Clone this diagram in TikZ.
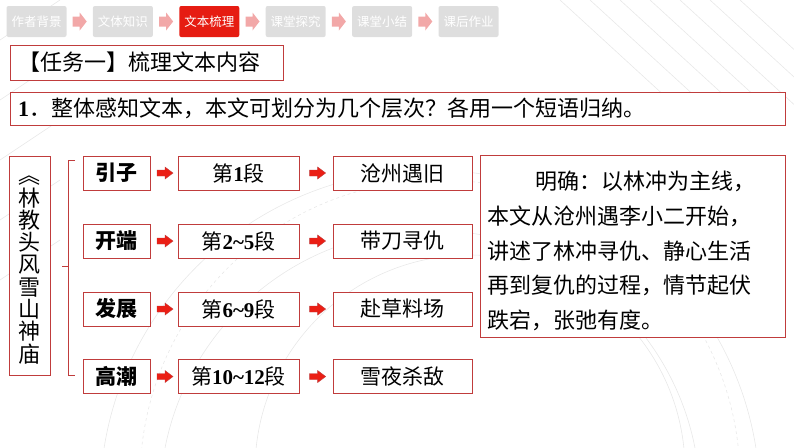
\documentclass[tikz,border=0pt]{standalone}
\usepackage{fontspec}
\setmainfont{Noto Sans CJK SC}
\newfontfamily\numfont{Liberation Serif}
\usetikzlibrary{calc}
\definecolor{navgray}{RGB}{222,222,222}
\definecolor{navred}{RGB}{230,28,18}
\definecolor{navpink}{RGB}{242,168,168}
\definecolor{bord}{RGB}{192,60,60}
\definecolor{arrred}{RGB}{235,30,20}
\definecolor{bggray}{RGB}{232,232,232}
\newcommand{\nm}[1]{{\numfont\bfseries #1}}
\begin{document}
\begin{tikzpicture}[x=1pt,y=-1pt,
  navbox/.style={fill=navgray, rounded corners=2pt, minimum width=60pt, minimum height=31pt, inner sep=0pt, text=white, font=\fontsize{12.5}{14}\selectfont},
  navon/.style={navbox, fill=navred},
  navarrow/.pic={\fill[navpink] (-7,-5) -- (0,-5) -- (0,-9) -- (7,0) -- (0,9) -- (0,5) -- (-7,5) -- cycle;},
  rowarrow/.pic={\filldraw[fill=arrred, draw=bord, line width=0.4pt] (-8,-3) -- (0,-3) -- (0,-6) -- (8,0) -- (0,6) -- (0,3) -- (-8,3) -- cycle;},
  framebox/.style={draw=bord, line width=0.9pt, fill=white, inner sep=0pt},
  lblbox/.style={framebox, minimum width=67pt, minimum height=34pt, font=\fontsize{21}{24}\selectfont\bfseries},
  midbox/.style={framebox, minimum width=121pt, minimum height=34pt, font=\fontsize{21}{24}\selectfont},
  resbox/.style={framebox, minimum width=139pt, minimum height=34pt, font=\fontsize{21}{24}\selectfont},
  bgline/.style={draw=bggray, line width=0.6pt}
]
\useasboundingbox (0,0) rectangle (794,447);
% faint background decoration
\draw[bgline] (430,500) circle (330);
\draw[bgline] (430,500) circle (270);
\draw[bgline] (470,470) circle (215);
\draw[bgline, dashed] (440,480) circle (300);
\foreach \i in {0,...,6} {\draw[bgline] (560+\i*30,0) -- (680+\i*30,110);}
\foreach \i in {0,...,4} {\draw[bgline] (0,40+\i*60) -- (60,0+\i*60);}

% navigation bar
\node[navbox] (n1) at (36.5,21.5) {作者背景};
\node[navbox] (n2) at (122.9,21.5) {文体知识};
\node[navon]  (n3) at (209.3,21.5) {文本梳理};
\node[navbox] (n4) at (295.7,21.5) {课堂探究};
\node[navbox] (n5) at (382.1,21.5) {课堂小结};
\node[navbox] (n6) at (468.5,21.5) {课后作业};
\foreach \a/\b in {n1/n2,n2/n3,n3/n4,n4/n5,n5/n6}
  \pic at ($(\a.east)!0.5!(\b.west)$) {navarrow};

% task and question
\draw[framebox] (10,45) rectangle (283,80);
\node[anchor=west, inner sep=0pt, font=\fontsize{22}{24}\selectfont] (task) at (18,62.5) {【任务一】梳理文本内容};
\draw[framebox] (10,92) rectangle (785,125);
\node[anchor=west, inner sep=0pt, font=\fontsize{22}{24}\selectfont] (q) at (18,108.5) {\nm{1}．整体感知文本，本文可划分为几个层次？各用一个短语归纳。};

% title vertical
\node[framebox, minimum width=41pt, minimum height=219pt] (tbox) at (29.5,265.5) {};
\node[align=center, inner sep=0pt, font=\fontsize{22}{22.3}\selectfont] (title) at (29.5,270) {︽\\林\\教\\头\\风\\雪\\山\\神\\庙};

% brace
\draw[bord, line width=1pt] (75,160) -- (68,160) -- (68,375) -- (75,375);
\draw[bord, line width=1pt] (68,266) -- (62,266);

% rows
\node[lblbox] (l1) at (116.5,173) {引子};
\node[midbox] (m1) at (238.5,173) {第\nm{1}段};
\node[resbox] (r1) at (402.5,173) {沧州遇旧};
\node[lblbox] (l2) at (116.5,241) {开端};
\node[midbox] (m2) at (238.5,241) {第\nm{2\char"7E 5}段};
\node[resbox] (r2) at (402.5,241) {带刀寻仇};
\node[lblbox] (l3) at (116.5,309) {发展};
\node[midbox] (m3) at (238.5,309) {第\nm{6\char"7E 9}段};
\node[resbox] (r3) at (402.5,309) {赴草料场};
\node[lblbox] (l4) at (116.5,376.5) {高潮};
\node[midbox] (m4) at (238.5,376.5) {第\nm{10\char"7E 12}段};
\node[resbox] (r4) at (402.5,376.5) {雪夜杀敌};
\foreach \k in {1,2,3,4} {
  \pic at ($(l\k.east)!0.5!(m\k.west)+(1,0)$) {rowarrow};
  \pic at ($(m\k.east)!0.55!(r\k.west)$) {rowarrow};
}

% explanation
\draw[framebox] (480,155) rectangle (785,337);
\node[anchor=west, align=left, inner sep=0pt, font=\fontsize{22}{34.6}\selectfont] (expl) at (487,251) {\hspace*{2.2em}明确：以林冲为主线，\\本文从沧州遇李小二开始，\\讲述了林冲寻仇、静心生活\\再到复仇的过程，情节起伏\\跌宕，张弛有度。};
\end{tikzpicture}
\end{document}
